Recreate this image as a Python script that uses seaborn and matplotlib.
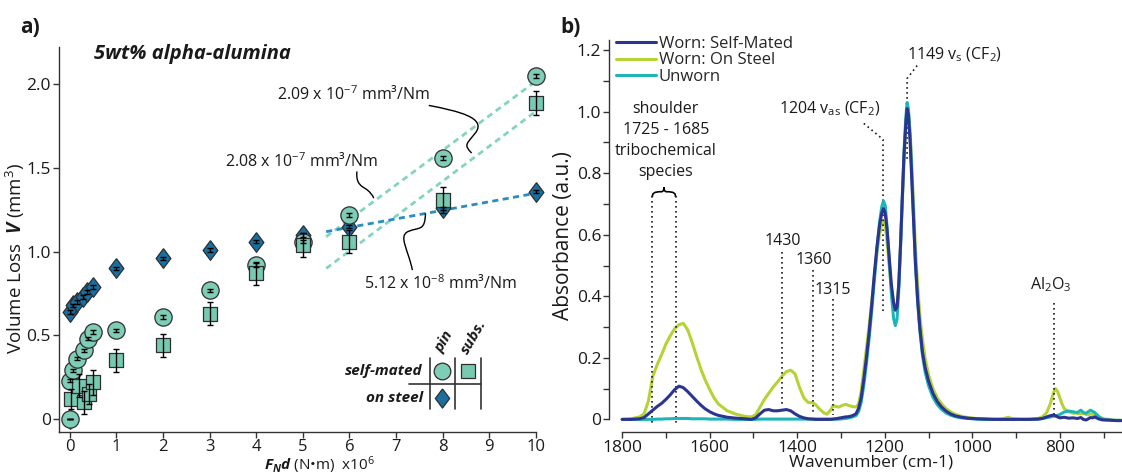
import numpy as np
import pandas as pd
import matplotlib
matplotlib.use("Agg")
import matplotlib.pyplot as plt
import seaborn as sns
from matplotlib.path import Path
from matplotlib.patches import PathPatch
from matplotlib.lines import Line2D

# ---------------- data: panel a ----------------
pin_x = [0, 0.01, 0.07, 0.15, 0.3, 0.4, 0.5, 1, 2, 3, 4, 5, 6, 8, 10]
pin_y = [0.0, 0.23, 0.29, 0.36, 0.41, 0.48, 0.52, 0.53, 0.61, 0.77, 0.92, 1.06, 1.22, 1.56, 2.05]
pin_err = [0.0, 0.01, 0.01, 0.01, 0.01, 0.01, 0.01, 0.01, 0.01, 0.01, 0.01, 0.01, 0.01, 0.01, 0.01]

subs_x = [0.03, 0.2, 0.31, 0.41, 0.5, 1, 2, 3, 4, 5, 6, 8, 10]
subs_y = [0.12, 0.20, 0.10, 0.15, 0.22, 0.35, 0.44, 0.63, 0.87, 1.04, 1.06, 1.31, 1.89]
subs_err = [0.06, 0.07, 0.07, 0.06, 0.075, 0.07, 0.07, 0.07, 0.07, 0.07, 0.07, 0.08, 0.07]

steel_x = [0, 0.0, 0.07, 0.15, 0.28, 0.38, 0.5, 1, 2, 3, 4, 5, 6, 8, 10]
steel_y = [0.0, 0.64, 0.68, 0.70, 0.73, 0.76, 0.79, 0.90, 0.96, 1.01, 1.06, 1.10, 1.15, 1.26, 1.36]
steel_err = [0.0, 0.01, 0.01, 0.01, 0.01, 0.01, 0.01, 0.01, 0.01, 0.01, 0.01, 0.01, 0.01, 0.01, 0.01]

fit_x = [5.5, 10]
fit_pin = [1.09, 2.02]
fit_subs = [0.90, 1.84]
fit_steel = [1.12, 1.35]

# ---------------- data: panel b ----------------
wn = [1800, 1780, 1760, 1750, 1740, 1730, 1720, 1710, 1700, 1690, 1680, 1670, 1660, 1650,
      1640, 1630, 1620, 1610, 1600, 1590, 1580, 1560, 1540, 1520, 1505, 1495, 1485, 1475,
      1465, 1455, 1445, 1435, 1425, 1415, 1405, 1395, 1385, 1375, 1365, 1358, 1350, 1340,
      1332, 1324, 1318, 1312, 1305, 1298, 1290, 1282, 1274, 1266, 1260, 1254, 1248, 1242,
      1236, 1230, 1224, 1218, 1212, 1207, 1203, 1199, 1195, 1190, 1185, 1180, 1176, 1172,
      1168, 1164, 1160, 1156, 1152, 1149, 1146, 1142, 1138, 1134, 1130, 1125, 1120, 1114,
      1108, 1100, 1090, 1080, 1070, 1060, 1050, 1040, 1025, 1010, 990, 970, 950, 930, 918,
      910, 890, 870, 850, 840, 830, 822, 815, 810, 805, 800, 795, 790, 780, 770, 760, 752,
      746, 740, 735, 730, 725, 720, 715, 710, 705, 700, 690, 680, 670, 660]

on_steel = [0.0, 0.002, 0.008, 0.018, 0.06, 0.14, 0.178, 0.21, 0.245, 0.272, 0.295, 0.308, 0.312, 0.29,
            0.25, 0.205, 0.163, 0.127, 0.097, 0.07, 0.05, 0.028, 0.017, 0.01, 0.008, 0.015, 0.04, 0.065,
            0.085, 0.105, 0.122, 0.14, 0.155, 0.16, 0.148, 0.105, 0.07, 0.055, 0.054, 0.048, 0.035, 0.022,
            0.017, 0.03, 0.045, 0.042, 0.04, 0.045, 0.049, 0.045, 0.042, 0.04, 0.05, 0.09, 0.16, 0.23,
            0.30, 0.38, 0.46, 0.54, 0.60, 0.635, 0.645, 0.63, 0.58, 0.50, 0.43, 0.38, 0.36, 0.37,
            0.44, 0.56, 0.70, 0.84, 0.95, 1.01, 1.0, 0.93, 0.82, 0.69, 0.56, 0.44, 0.34, 0.26,
            0.20, 0.145, 0.10, 0.07, 0.05, 0.035, 0.025, 0.017, 0.01, 0.006, 0.003, 0.002, 0.001, 0.002, 0.007,
            0.003, 0.001, 0.001, 0.003, 0.008, 0.022, 0.05, 0.085, 0.1, 0.09, 0.07, 0.05, 0.035, 0.025, 0.02, 0.02, 0.018,
            0.02, 0.016, 0.015, 0.018, 0.016, 0.013, 0.01, 0.008, 0.005, 0.002, 0.0, -0.002, -0.003, -0.003]

self_mated = [0.0, 0.0, 0.002, 0.006, 0.018, 0.03, 0.042, 0.052, 0.065, 0.08, 0.097, 0.108, 0.103, 0.09,
              0.075, 0.06, 0.046, 0.034, 0.025, 0.018, 0.013, 0.007, 0.004, 0.002, 0.0, 0.005, 0.018, 0.03,
              0.032, 0.028, 0.028, 0.03, 0.032, 0.028, 0.018, 0.01, 0.005, 0.002, 0.001, 0.0, 0.0, 0.0,
              0.0, 0.0, 0.001, 0.002, 0.004, 0.006, 0.008, 0.009, 0.012, 0.018, 0.035, 0.07, 0.13, 0.2,
              0.28, 0.37, 0.47, 0.56, 0.63, 0.67, 0.685, 0.67, 0.62, 0.53, 0.44, 0.38, 0.355, 0.365,
              0.44, 0.57, 0.72, 0.86, 0.96, 1.01, 0.99, 0.9, 0.77, 0.64, 0.51, 0.39, 0.30, 0.22,
              0.17, 0.125, 0.085, 0.058, 0.04, 0.027, 0.018, 0.012, 0.007, 0.004, 0.002, 0.001, 0.0, 0.0, 0.0,
              0.0, 0.0, 0.0, 0.001, 0.003, 0.008, 0.012, 0.014, 0.012, 0.008, 0.005, 0.006, 0.007, 0.004, 0.005, 0.003, 0.006,
              0.0, -0.002, 0.002, 0.006, 0.005, 0.008, 0.004, 0.001, -0.001, -0.002, -0.002, -0.003, -0.004, -0.004]

unworn = [0.0, 0.0, 0.0, 0.0, 0.0, 0.0, 0.001, 0.001, 0.002, 0.002, 0.003, 0.003, 0.003, 0.003,
          0.002, 0.002, 0.002, 0.002, 0.001, 0.001, 0.001, 0.001, 0.0, 0.0, 0.0, 0.0, 0.001, 0.001,
          0.001, 0.001, 0.001, 0.001, 0.001, 0.001, 0.001, 0.001, 0.001, 0.001, 0.001, 0.001, 0.001, 0.001,
          0.001, 0.001, 0.001, 0.001, 0.001, 0.002, 0.003, 0.005, 0.008, 0.012, 0.025, 0.055, 0.11, 0.18,
          0.26, 0.35, 0.45, 0.55, 0.64, 0.69, 0.71, 0.695, 0.63, 0.52, 0.41, 0.33, 0.305, 0.325,
          0.42, 0.56, 0.72, 0.87, 0.98, 1.03, 1.01, 0.92, 0.79, 0.65, 0.51, 0.385, 0.29, 0.21,
          0.155, 0.11, 0.072, 0.048, 0.032, 0.021, 0.014, 0.009, 0.005, 0.003, 0.001, 0.0, 0.0, 0.0, 0.0,
          0.0, 0.0, 0.0, 0.001, 0.003, 0.006, 0.008, 0.01, 0.011, 0.013, 0.016, 0.02, 0.024, 0.027, 0.025, 0.022, 0.03,
          0.022, 0.02, 0.025, 0.03, 0.026, 0.022, 0.015, 0.008, 0.003, 0.0, -0.002, -0.003, -0.003, -0.003]

series_names = ["Worn: Self-Mated", "Worn: On Steel", "Unworn"]

# ---------------- style ----------------
sns.set_theme(style="ticks")
FONT = "Open Sans"
plt.rcParams['font.family'] = [FONT, 'DejaVu Sans']
plt.rcParams['mathtext.fontset'] = 'custom'
plt.rcParams['mathtext.rm'] = FONT
plt.rcParams['mathtext.it'] = FONT + ':italic'
plt.rcParams['mathtext.bf'] = FONT + ':bold'
plt.rcParams['mathtext.bfit'] = FONT + ':italic:bold'
plt.rcParams['axes.linewidth'] = 1.0
plt.rcParams['axes.edgecolor'] = '#333333'
TXT = '#1a1a1a'

C_PIN = '#7ecdb6'
C_SUBS = '#78c9b2'
C_STEEL = '#1a6f9e'
C_EDGE = '#2e2e2e'
C_FIT_LIGHT = '#84d4c0'
C_FIT_DARK = '#2a8cc0'
C_SELF = '#2b3590'
C_STEELB = '#b5d334'
C_UNW = '#1fb5b8'

fig = plt.figure(figsize=(11.22, 4.76), dpi=100)
axA = fig.add_axes([0.0526, 0.0924, 0.4251, 0.8088])
axB = fig.add_axes([0.5432, 0.0924, 0.4568, 0.8235])

# ================= panel a =================
ax = axA
fs_tick = 12.5
for fx, fy, col in [(fit_x, fit_pin, C_FIT_LIGHT), (fit_x, fit_subs, C_FIT_LIGHT), (fit_x, fit_steel, C_FIT_DARK)]:
    sns.lineplot(x=fx, y=fy, ax=ax, color=col, lw=2.0, linestyle=(0, (2.2, 1.6)), zorder=1)

diamond = [(0, 1), (0.75, 0), (0, -1), (-0.75, 0), (0, 1)]
sns.scatterplot(x=steel_x, y=steel_y, ax=ax, marker=diamond, s=200, color=C_STEEL,
                edgecolor=C_EDGE, linewidth=0.9, zorder=3, clip_on=False)
sns.scatterplot(x=pin_x, y=pin_y, ax=ax, marker='o', s=155, color=C_PIN,
                edgecolor=C_EDGE, linewidth=0.9, zorder=4, clip_on=False)
sns.scatterplot(x=subs_x, y=subs_y, ax=ax, marker='s', s=105, color=C_SUBS,
                edgecolor=C_EDGE, linewidth=0.9, zorder=5, clip_on=False)
for xs, ys, es in [(steel_x, steel_y, steel_err), (pin_x, pin_y, pin_err), (subs_x, subs_y, subs_err)]:
    ax.errorbar(xs, ys, yerr=es, fmt='none', ecolor='black', elinewidth=1.0, capsize=2.2,
                capthick=1.0, zorder=6, clip_on=False)

ax.set_xlim(-0.23, 10.0)
ax.set_ylim(-0.078, 2.224)
ax.set_xticks(range(0, 11))
ax.set_xticklabels([str(i) for i in range(0, 11)])
ax.set_yticks([0, 0.5, 1.0, 1.5, 2.0])
ax.set_yticklabels(["0", "0.5", "1.0", "1.5", "2.0"])
ax.tick_params(direction='out', length=4, width=1, labelsize=fs_tick, colors='#333333', labelcolor=TXT, pad=2)
ax.tick_params(axis='x', labelsize=12, pad=1)
sns.despine(ax=ax)
ax.set_xlabel(r"$\mathbfit{F_N d}$ (N•m)  x10$^6$", fontsize=11, color=TXT, va='bottom')
ax.xaxis.set_label_coords(0.547, -0.113)
ax.set_ylabel(r"Volume Loss  $\mathbfit{V}$ (mm$^3$)", fontsize=13.5, color=TXT, va='center')
ax.yaxis.set_label_coords(-0.091, 0.45)

ax.text(0.515, 2.18, "5wt% alpha-alumina", fontsize=14.5, fontweight='bold', style='italic',
        color=TXT, ha='left', va='center')

ann_fs = 11.5
ax.text(6.08, 1.94, r"2.09 x 10$^{-7}$ mm³/Nm", fontsize=ann_fs, ha='center', va='center', color=TXT)
ax.text(4.97, 1.54, r"2.08 x 10$^{-7}$ mm³/Nm", fontsize=ann_fs, ha='center', va='center', color=TXT)
ax.text(7.94, 0.81, r"5.12 x 10$^{-8}$ mm³/Nm", fontsize=ann_fs, ha='center', va='center', color=TXT)

def curve(ax, pts, lw=1.0):
    codes = [Path.MOVETO] + [Path.CURVE4] * (len(pts) - 1)
    ax.add_patch(PathPatch(Path(pts, codes), fill=False, lw=lw, edgecolor='black', zorder=2))

curve(ax, [(7.70, 1.875), (8.35, 1.84), (8.95, 1.80), (8.70, 1.71),
           (8.50, 1.64), (8.45, 1.64), (8.62, 1.59)])
curve(ax, [(6.16, 1.48), (6.13, 1.40), (6.28, 1.39), (6.38, 1.37),
           (6.46, 1.35), (6.49, 1.34), (6.52, 1.32)])
curve(ax, [(7.35, 0.89), (7.25, 1.02), (7.05, 1.09), (7.25, 1.12),
           (7.50, 1.15), (7.62, 1.12), (7.63, 1.23)])

# legend table
lt_fs = 11
ax.text(7.575, 0.287, "self-mated", fontsize=lt_fs, fontweight='bold', style='italic', ha='right', va='center', color=TXT)
ax.text(7.575, 0.125, "on steel", fontsize=lt_fs, fontweight='bold', style='italic', ha='right', va='center', color=TXT)
ax.text(8.03, 0.46, "pin", fontsize=lt_fs, fontweight='bold', style='italic', ha='center', va='center', rotation=60, color=TXT)
ax.text(8.67, 0.49, "subs.", fontsize=lt_fs, fontweight='bold', style='italic', ha='center', va='center', rotation=60, color=TXT)
for vx in [7.725, 8.26, 8.82]:
    ax.add_line(Line2D([vx, vx], [0.06, 0.364], color='#333333', lw=1.2))
ax.add_line(Line2D([7.27, 8.82], [0.209, 0.209], color='#333333', lw=1.2))
ax.plot([7.99], [0.287], marker='o', ms=12, mfc=C_PIN, mec=C_EDGE, mew=0.9, ls='none')
ax.plot([8.54], [0.287], marker='s', ms=9.7, mfc=C_SUBS, mec=C_EDGE, mew=0.9, ls='none')
ax.plot([7.99], [0.127], marker=diamond, ms=13.8, mfc=C_STEEL, mec=C_EDGE, mew=0.9, ls='none')

# ================= panel b =================
ax = axB
df = pd.DataFrame({
    "wn": wn * 3,
    "A": self_mated + on_steel + unworn,
    "series": [series_names[0]] * len(wn) + [series_names[1]] * len(wn) + [series_names[2]] * len(wn),
})
palette = {series_names[0]: C_SELF, series_names[1]: C_STEELB, series_names[2]: C_UNW}
for name, z in [(series_names[1], 2), (series_names[2], 3), (series_names[0], 4)]:
    sub = df[df["series"] == name]
    sns.lineplot(data=sub, x="wn", y="A", ax=ax, color=palette[name], lw=2.2, zorder=z, legend=False)

ax.set_xlim(1829, 658)
ax.set_ylim(-0.041, 1.233)
ax.set_xticks([1800, 1600, 1400, 1200, 1000, 800])
ax.set_xticks([1700, 1500, 1300, 1100, 900, 700], minor=True)
ax.set_yticks([0, 0.2, 0.4, 0.6, 0.8, 1.0, 1.2])
ax.set_yticklabels(["0", "0.2", "0.4", "0.6", "0.8", "1.0", "1.2"])
ax.set_yticks([0.1, 0.3, 0.5, 0.7, 0.9, 1.1], minor=True)
ax.tick_params(which='both', direction='out', length=4, width=1, labelsize=fs_tick,
               colors='#333333', labelcolor=TXT, pad=2)
sns.despine(ax=ax)
ax.spines['bottom'].set_bounds(1800, 658)
ax.spines['left'].set_bounds(0, 1.233)
ax.set_xlabel("Wavenumber (cm-1)", fontsize=12.5, color=TXT, va='center')
ax.xaxis.set_label_coords(0.51, -0.079)
ax.set_ylabel("Absorbance (a.u.)", fontsize=15, color=TXT, va='center')
ax.yaxis.set_label_coords(-0.089, 0.5)

handles = [Line2D([], [], color=palette[n], lw=2.2) for n in series_names]
ax.legend(handles, series_names, loc='upper left', bbox_to_anchor=(0.012, 1.01), frameon=False,
          fontsize=12, handlelength=2.4, handletextpad=0.2, labelspacing=0.02, borderpad=0,
          borderaxespad=0)

dot = dict(color='#1a1a1a', lw=1.2, linestyle=(0, (1, 2)))
bfs = 11.5
# shoulder
ax.text(1700, 0.907, "shoulder\n1725 - 1685\ntribochemical\nspecies", fontsize=bfs, ha='center',
        va='center', linespacing=1.42, color=TXT)
bx0, bx1, by = 1731, 1678, 0.735
bm = (bx0 + bx1) / 2
brace = [(bx0, by - 0.012), (bx0, by), (bx0 - 3, by + 0.005), (bm + 6, by + 0.005),
         (bm + 2, by + 0.005), (bm, by + 0.01), (bm, by + 0.02),
         (bm, by + 0.01), (bm - 2, by + 0.005), (bm - 6, by + 0.005),
         (bx1 + 3, by + 0.005), (bx1, by), (bx1, by - 0.012)]
bcodes = [Path.MOVETO] + [Path.CURVE4] * 12
ax.add_patch(PathPatch(Path(brace, bcodes), fill=False, lw=1.2, edgecolor='black'))
ax.plot([bx0, bx0], [0.725, -0.012], **dot)
ax.plot([bx1, bx1], [0.725, -0.012], **dot)

ax.text(1434, 0.58, "1430", fontsize=bfs, ha='center', va='center', color=TXT)
ax.plot([1434, 1434], [0.545, 0.04], **dot)
ax.text(1363, 0.518, "1360", fontsize=bfs, ha='center', va='center', color=TXT)
ax.plot([1363, 1363], [0.485, 0.014], **dot)
ax.text(1318, 0.42, "1315", fontsize=bfs, ha='center', va='center', color=TXT)
ax.plot([1318, 1318], [0.39, 0.014], **dot)

ax.text(1211, 1.008, r"1204 v$_{\mathrm{as}}$ (CF$_2$)", fontsize=bfs, ha='right', va='center', color=TXT)
ax.plot([1248, 1204, 1204], [0.962, 0.91, 0.35], **dot)
ax.text(1150, 1.184, r"1149 v$_{\mathrm{s}}$ (CF$_2$)", fontsize=bfs, ha='left', va='center', color=TXT)
ax.plot([1126, 1149, 1149], [1.15, 1.108, 0.84], **dot)
ax.text(820, 0.437, r"Al$_2$O$_3$", fontsize=bfs, ha='center', va='center', color=TXT)
ax.plot([813, 813], [0.377, 0.008], **dot)

fig.text(0.018, 0.943, "a)", fontsize=15, fontweight='bold', color=TXT, ha='left', va='center')
fig.text(0.499, 0.943, "b)", fontsize=15, fontweight='bold', color=TXT, ha='left', va='center')

fig.savefig("out.png", dpi=100)
